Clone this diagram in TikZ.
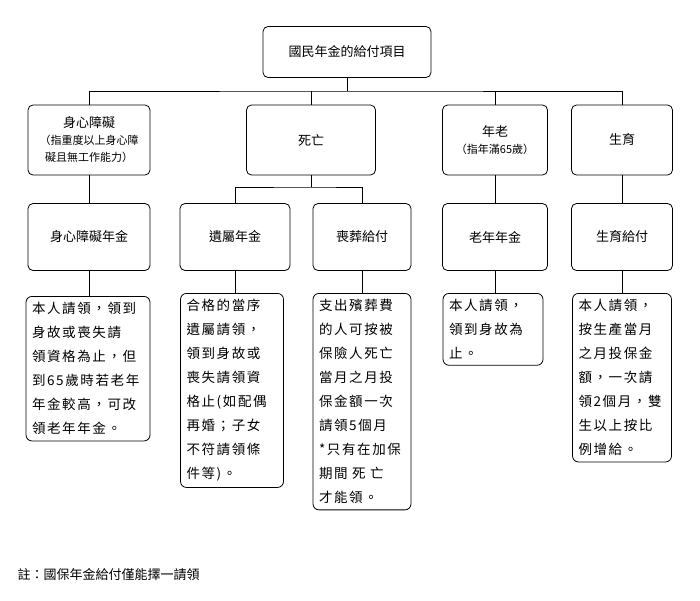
\documentclass[tikz,border=0pt]{standalone}
\usepackage{fontspec}
\setmainfont{Noto Sans CJK TC}
\newfontfamily\spaced[LetterSpace=12]{Noto Sans CJK TC}
\usetikzlibrary{positioning}
\tikzset{
  itembox/.style={draw, thick, rounded corners=5pt, align=center, font=\fontsize{13}{17}\selectfont},
  textbox/.style={draw, thick, rounded corners=6pt, align=left, anchor=north, inner sep=6pt,
    font=\spaced\fontsize{13.5}{24}\selectfont},
  conn/.style={thick}
}
\begin{document}
\begin{tikzpicture}[x=1pt,y=-1pt]
  \useasboundingbox (0,0) rectangle (700,600);
  % top
  \node[itembox, minimum width=168, minimum height=51] (top) at (347,52) {國民年金的給付項目};
  % second level
  \node[itembox, minimum width=122, minimum height=70] (dis) at (89,140) {身心障礙\\{\fontsize{11}{15}\selectfont（指重度以上身心障}\\{\fontsize{11}{15}\selectfont 礙且無工作能力）}};
  \node[itembox, minimum width=129, minimum height=70] (death) at (311,140) {死亡};
  \node[itembox, minimum width=105, minimum height=70] (old) at (495,140) {年老\\{\fontsize{11}{15}\selectfont（指年滿65歲）}};
  \node[itembox, minimum width=101, minimum height=70] (birth) at (622,140) {生育};
  % third level
  \node[itembox, minimum width=122, minimum height=67] (disp) at (89,237) {身心障礙年金};
  \node[itembox, minimum width=110, minimum height=67] (surv) at (235,237) {遺屬年金};
  \node[itembox, minimum width=98, minimum height=67] (fun) at (362,237) {喪葬給付};
  \node[itembox, minimum width=105, minimum height=67] (oldp) at (495,237) {老年年金};
  \node[itembox, minimum width=101, minimum height=67] (birp) at (622,237) {生育給付};
  % details
  \node[textbox, text width=112] (t1) at (88,296) {本人請領，領到\\身故或喪失請\\領資格為止，但\\到65歲時若老年\\年金較高，可改\\領老年年金。};
  \node[textbox, text width=91] (t2) at (232,293) {合格的當序\\遺屬請領，\\領到身故或\\喪失請領資\\格止(如配偶\\再婚；子女\\不符請領條\\件等)。};
  \node[textbox, text width=86] (t3) at (362,293) {支出殯葬費\\的人可按被\\保險人死亡\\當月之月投\\保金額一次\\請領5個月\\{}*只有在加保\\期間 死 亡\\才能領。};
  \node[textbox, text width=88] (t4) at (493,293) {本人請領，\\領到身故為\\止。};
  \node[textbox, text width=87] (t5) at (622,293) {本人請領，\\按生產當月\\之月投保金\\額，一次請\\領2個月，雙\\生以上按比\\例增給。};
  % bus lines
  \coordinate (b1) at (347,91);
  \coordinate (b2) at (311,187);
  \draw[conn] (top.south) -- (b1);
  \draw[conn] (dis.north) |- (b1) -| (birth.north);
  \draw[conn] (death.north) -- (death.north |- b1);
  \draw[conn] (old.north) -- (old.north |- b1);
  \draw[conn] (death.south) -- (b2);
  \draw[conn] (surv.north) |- (b2) -| (fun.north);
  \foreach \a/\b in {dis/disp, old/oldp, birth/birp, disp/t1, surv/t2, fun/t3, oldp/t4, birp/t5}
    \draw[conn] (\a.south) -- (\a.south |- \b.north);
  % note
  \node[anchor=west, font=\fontsize{13}{15}\selectfont] (note) at (14,575) {註：國保年金給付僅能擇一請領};
\end{tikzpicture}
\end{document}
